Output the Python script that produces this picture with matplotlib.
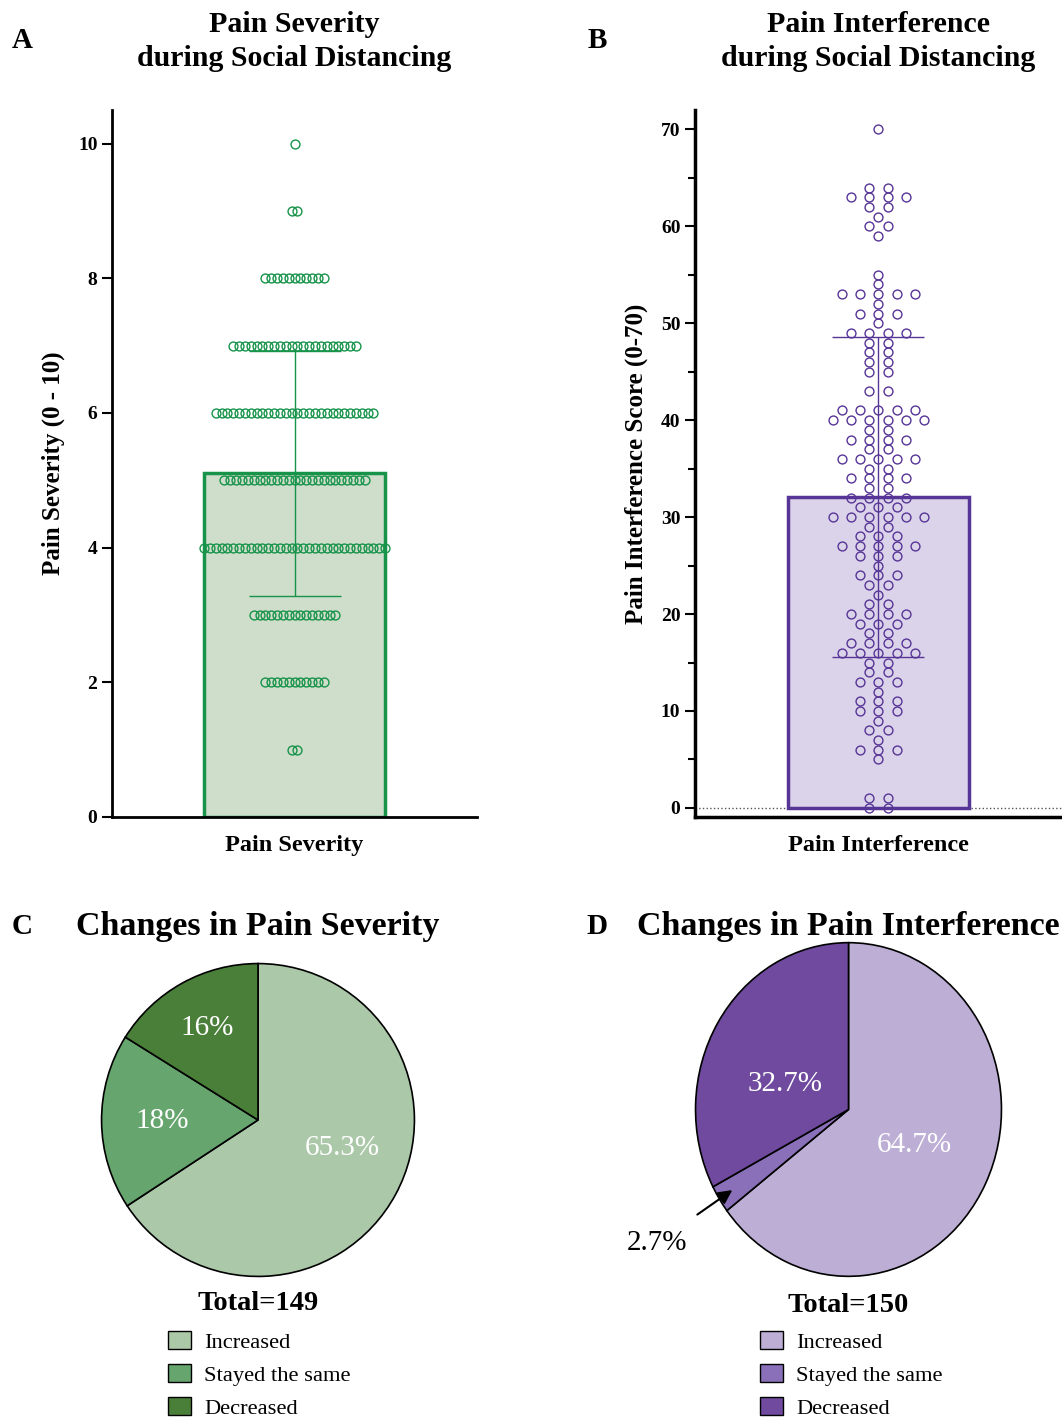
import numpy as np
import matplotlib
matplotlib.use("Agg")
import matplotlib.pyplot as plt
from matplotlib.patches import Patch

plt.rcParams['font.family'] = ['Liberation Serif', 'DejaVu Serif']

# panel A: pain severity scores and how many people gave each
sev_scores = [1, 2, 3, 4, 5, 6, 7, 8, 9, 10]
sev_counts = [2, 11, 15, 32, 25, 28, 22, 11, 2, 1]

# panel B: pain interference scores and counts
int_scores = [0, 1, 5, 6, 7, 8, 9, 10, 11, 12, 13, 14, 15,
              16, 17, 18, 19, 20, 21, 22, 23, 24, 25, 26, 27, 28, 29,
              30, 31, 32, 33, 34, 35, 36, 37, 38, 39, 40, 41, 43,
              45, 46, 47, 48, 49, 50, 51, 52, 53, 54, 55,
              59, 60, 61, 62, 63, 64, 70]
int_counts = [2, 2, 1, 3, 1, 2, 1, 3, 3, 1, 3, 2, 2,
              5, 4, 2, 3, 4, 2, 1, 2, 3, 1, 3, 5, 3, 2,
              6, 3, 4, 2, 4, 2, 5, 2, 4, 2, 6, 5, 2,
              2, 2, 2, 2, 4, 1, 3, 1, 5, 1, 1,
              1, 2, 1, 2, 4, 2, 1]

# pies
change_labels = ['Increased', 'Stayed the same', 'Decreased']
sev_change_pct = [65.3, 18, 16]
int_change_pct = [64.7, 2.7, 32.7]
sev_total = 149
int_total = 150

green_edge = '#17934a'
green_fill = '#cfddcb'
purple_edge = '#573596'
purple_fill = '#dbd3e9'
sev_pie_cols = ['#abc8a9', '#67a56f', '#4a7f3a']
int_pie_cols = ['#bdaed5', '#8a70b8', '#6f4a9e']

fig = plt.figure(figsize=(10.62, 14.19), dpi=100)


def swarm(scores, counts, step):
    xs, ys = [], []
    for s, c in zip(scores, counts):
        off = (np.arange(c) - (c - 1) / 2) * step
        xs.extend(off)
        ys.extend([s] * c)
    return np.array(xs), np.array(ys)


def bar_panel(ax, scores, counts, step, edge, fill, xlab, ylab):
    xs, ys = swarm(scores, counts, step)
    mean = ys.mean()
    sd = ys.std(ddof=1)
    ax.bar(0, mean, width=0.99, color=fill, edgecolor=edge, linewidth=2.5, zorder=1)
    ax.errorbar(0, mean, yerr=sd, color=edge, lw=1, capsize=33, capthick=1, zorder=3)
    ax.plot(xs, ys, 'o', ms=6.4, mfc='none', mec=edge, mew=1, zorder=4)
    ax.set_xlim(-1, 1)
    ax.set_xticks([0])
    ax.set_xticklabels([xlab], fontsize=17.5, fontweight='bold')
    ax.tick_params(axis='x', length=0, pad=13)
    ax.tick_params(axis='y', length=7, width=1.5, labelsize=14)
    ax.set_ylabel(ylab, fontsize=18, fontweight='bold', labelpad=9)
    ax.spines['top'].set_visible(False)
    ax.spines['right'].set_visible(False)
    ax.spines['left'].set_linewidth(2)
    ax.spines['bottom'].set_linewidth(2)


axA = fig.add_axes([0.1055, 0.4243, 0.3437, 0.4982])
axA.set_ylim(0, 10.5)
axA.set_yticks([0, 2, 4, 6, 8, 10])
bar_panel(axA, sev_scores, sev_counts, 0.032, green_edge, green_fill,
          'Pain Severity', 'Pain Severity (0 - 10)')
for t in axA.get_yticklabels():
    t.set_fontweight('bold')
axA.set_title('Pain Severity\nduring Social Distancing', fontsize=21.5,
              fontweight='bold', pad=32, linespacing=1.3)

axB = fig.add_axes([0.6544, 0.4243, 0.3456, 0.4982])
axB.set_ylim(-0.93, 72)
axB.set_yticks(range(0, 71, 10))
axB.set_yticks(range(0, 71, 5), minor=True)
bar_panel(axB, int_scores, int_counts, 0.1, purple_edge, purple_fill,
          'Pain Interference', 'Pain Interference Score (0-70)')
for t in axB.get_yticklabels():
    t.set_fontweight('bold')
axB.tick_params(axis='y', which='minor', length=5, width=1.5)
axB.axhline(0, color='#555555', lw=1, ls=':', zorder=0)
axB.spines['left'].set_linewidth(2.5)
axB.spines['bottom'].set_linewidth(2.5)
axB.set_title('Pain Interference\nduring Social Distancing', fontsize=21.5,
              fontweight='bold', pad=32, linespacing=1.3)

for lab, x, y in [('A', 22, 40), ('B', 597, 40), ('C', 22, 926), ('D', 597, 926)]:
    fig.text(x / 1062, 1 - y / 1419, lab, fontsize=21, fontweight='bold',
             ha='center', va='center')


def pie_panel(rect, pcts, cols, label_pos, title, total, title_y, total_y, leg_x):
    ax = fig.add_axes(rect)
    wedges, _ = ax.pie(pcts, colors=cols, startangle=90, counterclock=False,
                       wedgeprops=dict(edgecolor='black', linewidth=1.2))
    ax.set_aspect('auto')
    ax.set_xlim(-1.01, 1.01)
    ax.set_ylim(-1.01, 1.01)
    for w, p, pos in zip(wedges, pcts, label_pos):
        if pos is None:
            continue
        r, dth = pos
        mid = np.deg2rad((w.theta1 + w.theta2) / 2 + dth)
        ax.text(r * np.cos(mid), r * np.sin(mid), f'{p:g}%', color='white',
                fontsize=21, ha='center', va='center')
    cx = rect[0] + rect[2] / 2
    fig.text(cx, 1 - title_y / 1419, title, fontsize=24.5, fontweight='bold',
             ha='center', va='center')
    fig.text(cx, 1 - total_y / 1419, f'Total={total}', fontsize=20.5,
             fontweight='bold', ha='center', va='center')
    handles = [Patch(facecolor=c, edgecolor='black', linewidth=1) for c in cols]
    fig.legend(handles, change_labels, loc='upper left',
               bbox_to_anchor=(leg_x / 1062, 1 - 1331 / 1419), frameon=False,
               fontsize=16.2, handlelength=1.0, handleheight=0.85,
               handletextpad=0.6, labelspacing=0.5, borderpad=0, borderaxespad=0)
    return ax, wedges


axC, wC = pie_panel([100 / 1062, 1 - 1278 / 1419, 316 / 1062, 316 / 1419],
                    sev_change_pct, sev_pie_cols,
                    [(0.57, 10), (0.61, 0), (0.67, 0)],
                    'Changes in Pain Severity', sev_total, 926, 1304, 168)

axD, wD = pie_panel([694 / 1062, 1 - 1278 / 1419, 309 / 1062, 337 / 1419],
                    int_change_pct, int_pie_cols,
                    [(0.48, 0), None, (0.44, 11)],
                    'Changes in Pain Interference', int_total, 926, 1306, 760)

# small slice gets an outside label with an arrow
w = wD[1]
mid = np.deg2rad((w.theta1 + w.theta2) / 2)
axD.annotate(f'{int_change_pct[1]:g}%', xy=(0.9 * np.cos(mid), 0.9 * np.sin(mid)),
             xytext=(1.25 * np.cos(mid) - 0.2, 1.25 * np.sin(mid) - 0.13),
             fontsize=21, ha='center', va='center', annotation_clip=False,
             arrowprops=dict(arrowstyle='-|>', color='black', lw=1.5,
                             shrinkA=16, shrinkB=0))

fig.savefig('out.png', dpi=100)
